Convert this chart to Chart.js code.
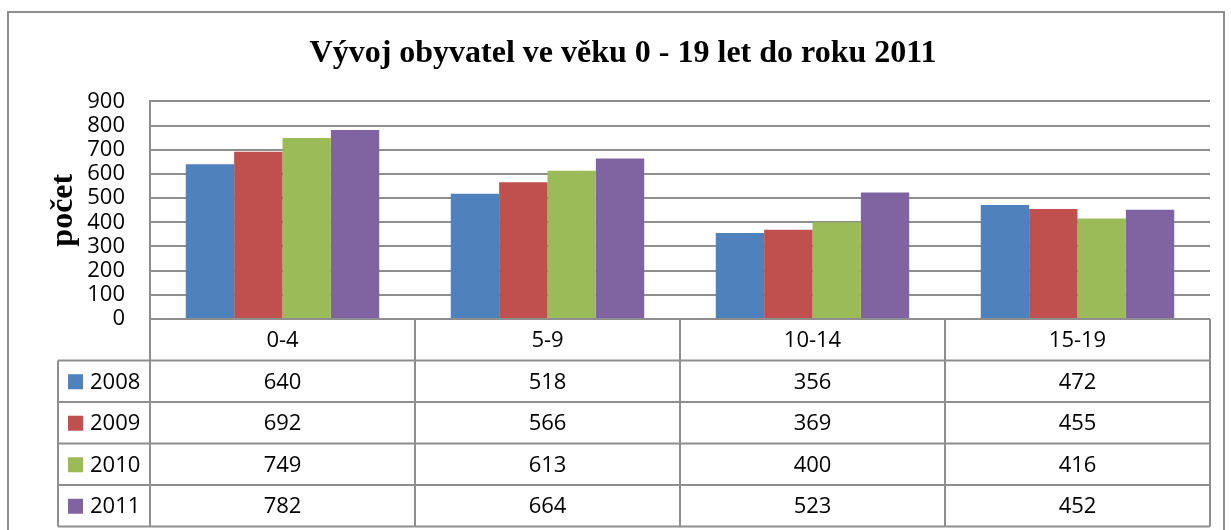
<!DOCTYPE html>
<html>
<head>
<meta charset="utf-8">
<script src="https://cdn.jsdelivr.net/npm/chart.js@4.4.1/dist/chart.umd.min.js"></script>
<style>
  html, body { margin: 0; padding: 0; background: #fff; }
  #wrap { width: 1231px; height: 530px; }
</style>
</head>
<body>
<div id="wrap"><canvas id="populationChart"></canvas></div>
<script>
"use strict";

// data
const ageGroups = ['0-4', '5-9', '10-14', '15-19'];
const years = ['2008', '2009', '2010', '2011'];
const values2008 = [640, 518, 356, 472];
const values2009 = [692, 566, 369, 455];
const values2010 = [749, 613, 400, 416];
const values2011 = [782, 664, 523, 452];
const yMax = 900;
const yStep = 100;

const seriesValues = [values2008, values2009, values2010, values2011];
const seriesColors = ['#4F81BD', '#C0504D', '#9BBB59', '#8064A2'];
const lineGray = '#8e8e8e';
const tableFont = '22px "Open Sans"';

// outer frame + white background
const framePlugin = {
  id: 'frame',
  beforeDraw: function (chart) {
    const ctx = chart.ctx;
    ctx.save();
    ctx.fillStyle = '#fff';
    ctx.fillRect(0, 0, chart.width, chart.height);
    ctx.strokeStyle = lineGray;
    ctx.lineWidth = 2;
    ctx.strokeRect(8, 12, chart.width - 15, chart.height + 20);
    ctx.restore();
  }
};

// data table under the plot, columns follow the x scale
const tablePlugin = {
  id: 'dataTable',
  afterDraw: function (chart) {
    const ctx = chart.ctx,
      area = chart.chartArea,
      xScale = chart.scales.x,
      sets = chart.data.datasets,
      labels = chart.data.labels;
    const rowH = 41.5,
      legendLeft = 58,
      top = area.bottom,
      bottom = top + rowH * (sets.length + 1);

    // column edges
    let edges = [area.left];
    for (let i = 1; i < labels.length; i++) {
      edges.push((xScale.getPixelForValue(i - 1) + xScale.getPixelForValue(i)) / 2);
    }
    edges.push(area.right);

    ctx.save();
    ctx.strokeStyle = lineGray;
    ctx.lineWidth = 2;
    ctx.beginPath();
    ctx.moveTo(area.left, top);
    ctx.lineTo(area.right, top);
    for (let r = 1; r <= sets.length + 1; r++) {
      ctx.moveTo(legendLeft, top + rowH * r);
      ctx.lineTo(area.right, top + rowH * r);
    }
    ctx.moveTo(legendLeft, top + rowH);
    ctx.lineTo(legendLeft, bottom);
    edges.forEach(function (ex) {
      ctx.moveTo(ex, top);
      ctx.lineTo(ex, bottom);
    });
    ctx.stroke();

    ctx.font = tableFont;
    ctx.fillStyle = '#000';
    ctx.textBaseline = 'middle';
    ctx.textAlign = 'center';
    labels.forEach(function (lab, i) {
      ctx.fillText(lab, xScale.getPixelForValue(i), top + rowH / 2 + 1);
    });

    sets.forEach(function (ds, r) {
      const cy = top + rowH * (r + 1.5);
      ctx.fillStyle = ds.backgroundColor;
      ctx.fillRect(legendLeft + 10, cy - 7, 15, 15);
      ctx.fillStyle = '#000';
      ctx.textAlign = 'left';
      ctx.fillText(ds.label, legendLeft + 32, cy + 1);
      ctx.textAlign = 'center';
      ds.data.forEach(function (v, i) {
        ctx.fillText(String(v), xScale.getPixelForValue(i), cy + 1);
      });
    });
    ctx.restore();
  }
};

const canvas = document.getElementById('populationChart');
new Chart(canvas, {
  type: 'bar',
  data: {
    labels: ageGroups,
    datasets: years.map(function (y, i) {
      return {
        label: y,
        data: seriesValues[i],
        backgroundColor: seriesColors[i],
        borderWidth: 0,
        categoryPercentage: 0.73,
        barPercentage: 1.0
      };
    })
  },
  options: {
    responsive: true,
    maintainAspectRatio: false,
    animation: false,
    layout: {
      padding: { top: 0, left: 36, right: 21, bottom: 211 }
    },
    scales: {
      x: {
        display: false
      },
      y: {
        min: 0,
        max: yMax,
        afterFit: function (scale) { scale.width = 114; },
        ticks: {
          stepSize: yStep,
          autoSkip: false,
          padding: 25,
          color: '#000',
          font: { family: 'Open Sans', size: 22, lineHeight: 1 }
        },
        grid: {
          color: lineGray,
          lineWidth: 2,
          drawTicks: false
        },
        border: { display: true, color: lineGray, width: 2 },
        title: {
          display: true,
          text: 'počet',
          color: '#000',
          font: { family: 'Liberation Serif', size: 32, weight: 'bold' },
          padding: { top: 9, bottom: 0 }
        }
      }
    },
    plugins: {
      legend: { display: false },
      tooltip: { enabled: false },
      title: {
        display: true,
        text: 'Vývoj obyvatel ve věku 0 - 19 let do roku 2011',
        color: '#000',
        font: { family: 'Liberation Serif', size: 32, weight: 'bold' },
        padding: { top: 35, bottom: 28 }
      }
    }
  },
  plugins: [framePlugin, tablePlugin]
});
</script>
</body>
</html>
